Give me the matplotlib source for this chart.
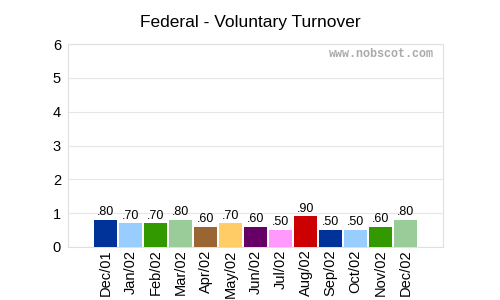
import matplotlib.pyplot as plt

meses = ["Dec/01", "Jan/02", "Feb/02", "Mar/02", "Apr/02", "May/02", "Jun/02",
         "Jul/02", "Aug/02", "Sep/02", "Oct/02", "Nov/02", "Dec/02"]
valores = [0.80, 0.70, 0.70, 0.80, 0.60, 0.70, 0.60, 0.50, 0.90, 0.50, 0.50, 0.60, 0.80]
colores = ["#003399", "#99ccff", "#339900", "#99cc99", "#996633", "#ffcc66",
           "#660066", "#ff99ff", "#cc0000", "#003399", "#99ccff", "#339900", "#99cc99"]

fig = plt.figure(figsize=(5, 3), dpi=100)
ax = fig.add_axes([0.136, 0.177, 0.75, 0.676])

x = list(range(len(meses)))
ax.bar(x, valores, width=0.92, color=colores, zorder=3)
for xi, v in zip(x, valores):
    ax.text(xi, v + 0.05, f"{v:.2f}".lstrip("0"), ha="center", va="bottom",
            fontsize=9, family="Liberation Sans")

ax.set_xlim(-1.5, 13.5)
ax.set_ylim(0, 6)
ax.set_yticks(range(7))
ax.set_xticks(x)
ax.set_xticklabels(meses, rotation=90, fontsize=10.5, family="Liberation Sans")
for lbl in ax.get_yticklabels():
    lbl.set_fontsize(10.5)
    lbl.set_family("Liberation Sans")
ax.tick_params(length=0, pad=2)
ax.tick_params(axis="y", pad=5)
ax.grid(axis="y", color="#e6e6e6", linewidth=0.8, zorder=0)
for s in ax.spines.values():
    s.set_color("#e0e0e0")
    s.set_linewidth(0.8)

ax.text(0.975, 0.95, "www.nobscot.com", transform=ax.transAxes, ha="right", va="center",
        fontsize=8.5, family="Liberation Mono", fontweight="bold", color="#aaaaaa")

fig.suptitle("Federal - Voluntary Turnover", y=0.95, fontsize=12.5, family="Liberation Sans")

fig.savefig("out.png", dpi=100)
